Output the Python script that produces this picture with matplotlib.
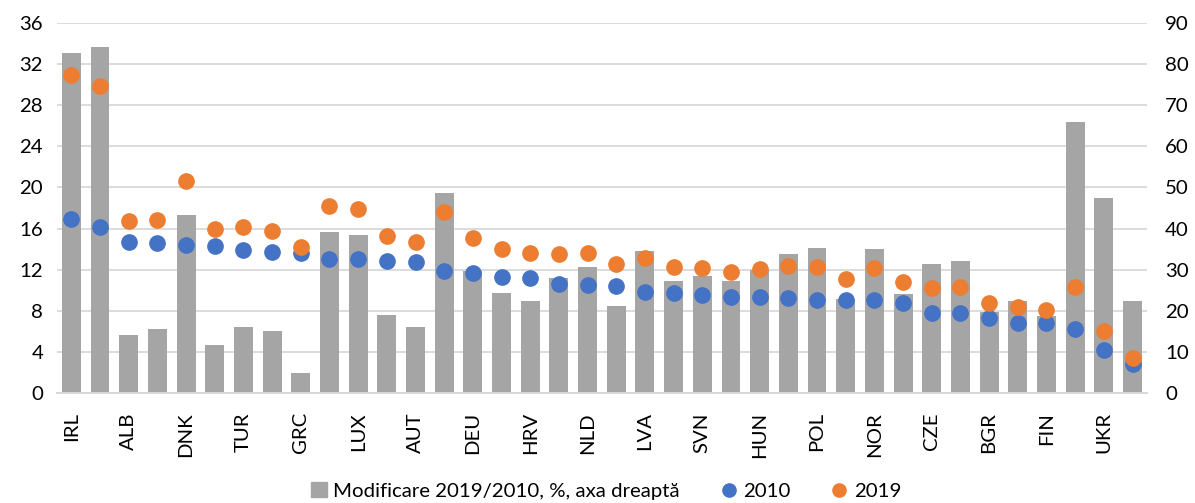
import matplotlib

matplotlib.use("Agg")
import matplotlib.pyplot as plt
from matplotlib.lines import Line2D
from matplotlib.patches import Patch

plt.rcParams["font.family"] = ["Lato", "DejaVu Sans"]

countries = [
    "IRL", "LTU", "ALB", "MKD", "DNK", "SRB", "TUR", "MNE", "GRC", "EST",
    "LUX", "BIH", "AUT", "ISL", "DEU", "ROU", "HRV", "ITA", "NLD", "SVK",
    "LVA", "MDA", "SVN", "BEL", "HUN", "CHE", "POL", "FRA", "NOR", "ESP",
    "CZE", "PRT", "BGR", "SWE", "FIN", "ARM", "UKR", "GEO",
]
# change 2019/2010, %, right axis
change = [
    82.8, 84.2, 14.1, 15.4, 43.3, 11.6, 16.1, 15.0, 4.7, 39.2,
    38.4, 18.9, 15.9, 48.7, 29.7, 24.4, 22.3, 27.9, 30.6, 21.1,
    34.5, 27.1, 28.4, 27.2, 29.9, 33.7, 35.3, 22.8, 35.0, 24.1,
    31.3, 32.0, 19.7, 22.3, 18.7, 65.9, 47.4, 22.3,
]
v2010 = [
    16.93, 16.18, 14.66, 14.56, 14.37, 14.30, 13.91, 13.68, 13.58, 13.06,
    13.00, 12.87, 12.71, 11.83, 11.64, 11.25, 11.15, 10.57, 10.47, 10.40,
    9.79, 9.69, 9.49, 9.30, 9.30, 9.26, 9.04, 9.04, 9.04, 8.74,
    7.80, 7.80, 7.28, 6.83, 6.83, 6.21, 4.13, 2.77,
]
v2019 = [
    30.93, 29.86, 16.73, 16.83, 20.63, 15.98, 16.15, 15.76, 14.20, 18.20,
    17.93, 15.27, 14.72, 17.58, 15.08, 14.04, 13.58, 13.52, 13.65, 12.57,
    13.16, 12.28, 12.15, 11.79, 12.06, 12.35, 12.22, 11.08, 12.18, 10.79,
    10.23, 10.30, 8.74, 8.38, 8.06, 10.33, 6.04, 3.41,
]

BAR = "#A5A5A5"
BLUE = "#4472C4"
ORANGE = "#ED7D31"
GRID = "#D9D9D9"

fig = plt.figure(figsize=(11.95, 5.03), dpi=100)
ax = fig.add_axes([0.0477, 0.2193, 0.912, 0.7344])
ax2 = ax.twinx()

x = list(range(len(countries)))

ax2.bar(x, change, width=0.66, color=BAR, zorder=2)
ax2.set_ylim(0, 90)
ax2.set_yticks(range(0, 91, 10))

ax.set_zorder(ax2.get_zorder() + 1)
ax.patch.set_visible(False)
ax.plot(x, v2010, "o", color=BLUE, markersize=11, zorder=3)
ax.plot(x, v2019, "o", color=ORANGE, markersize=11, zorder=4)
ax.set_ylim(0, 36)
ax.set_yticks(range(0, 37, 4))
ax.set_xlim(-0.5, len(countries) - 0.5)
ax.set_xticks(x[::2])
ax.set_xticklabels(countries[::2], rotation=90)

# gridlines drawn on the bar axis so they sit behind the bars
for y in range(10, 91, 10):
    ax2.axhline(y, color=GRID, linewidth=1.3, zorder=0)

for a in (ax, ax2):
    for side in ("top", "left", "right"):
        a.spines[side].set_visible(False)
    a.spines["bottom"].set_color(GRID)
    a.spines["bottom"].set_linewidth(1.3)
    a.tick_params(length=0, labelsize=14.7, colors="#000000")
ax.tick_params(axis="y", pad=10)
ax2.tick_params(axis="y", pad=13)
ax.tick_params(axis="x", pad=14)

handles = [
    Patch(color=BAR, label="Modificare 2019/2010, %, axa dreaptă"),
    Line2D([], [], marker="o", linestyle="", color=BLUE, markersize=9.5, label="2010"),
    Line2D([], [], marker="o", linestyle="", color=ORANGE, markersize=9.5, label="2019"),
]
fig.legend(handles=handles, loc="lower center", bbox_to_anchor=(0.507, -0.03), ncol=3,
           frameon=False, fontsize=14.7, handlelength=0.8, handletextpad=0.3, columnspacing=2.0)

fig.savefig("out.png", dpi=100)
